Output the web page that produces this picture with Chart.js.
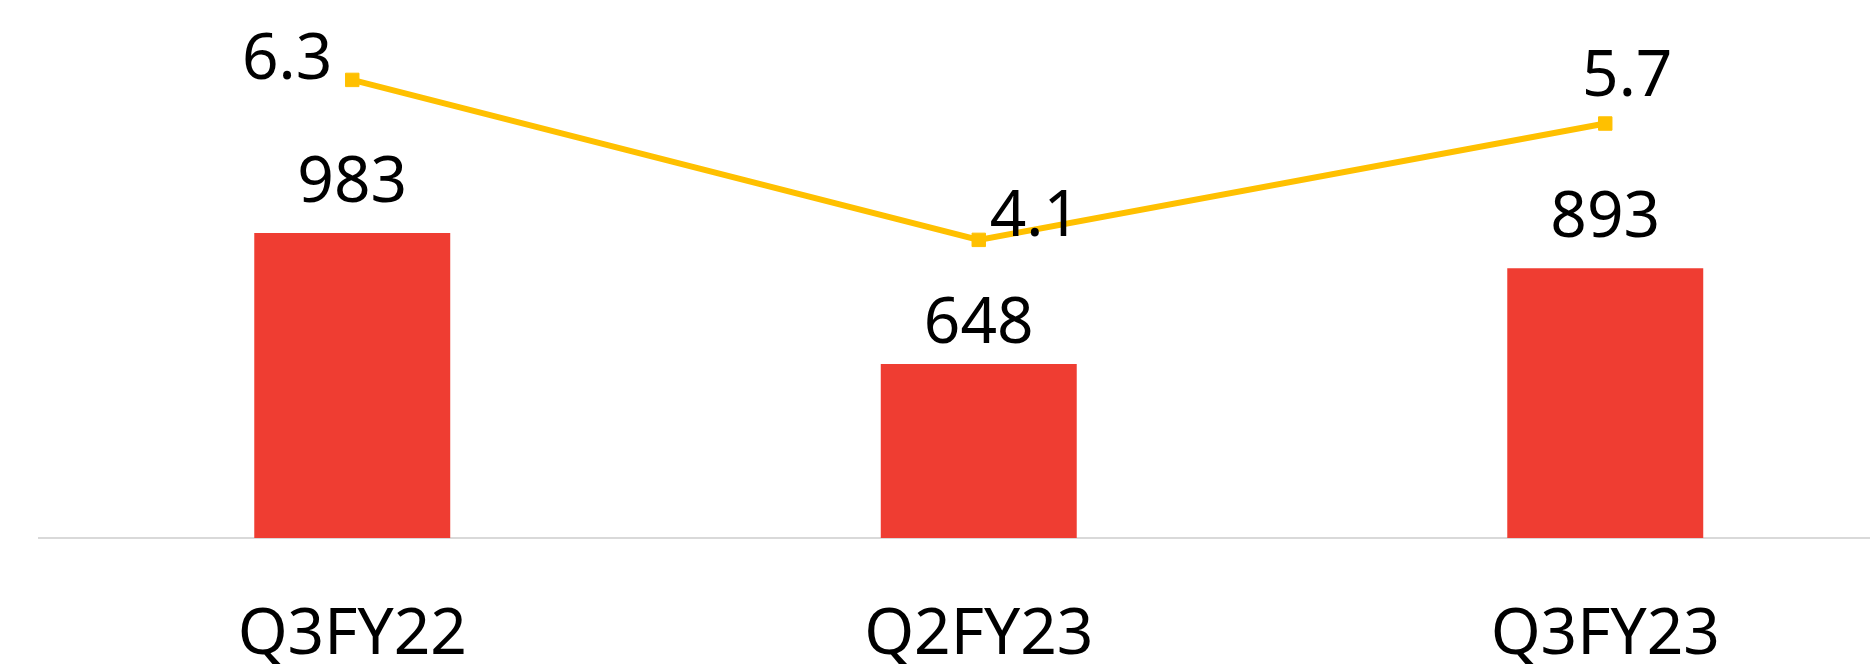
<!DOCTYPE html>
<html><head><meta charset="utf-8">
<script src="https://cdn.jsdelivr.net/npm/chart.js@4.4.0/dist/chart.umd.min.js"></script>
<style>
html,body{margin:0;padding:0;overflow:hidden;background:#fff;width:1870px;height:664px;}
#wrap{position:absolute;left:0;top:0;width:1929px;height:734px;}
</style></head><body>
<div id="wrap"><canvas id="c" width="1929" height="734"></canvas></div>
<script>
const categories = ['Q3FY22', 'Q2FY23', 'Q3FY23'];
const barValues = [983, 648, 893];
const lineValues = [6.3, 4.1, 5.7];

const FONT = '"Noto Sans", "Open Sans", sans-serif';

const labelPlugin = {
  id: 'valueLabels',
  afterDatasetsDraw(chart, args, opts) {
    const ctx = chart.ctx;
    ctx.save();
    ctx.font = '400 64px ' + FONT;
    ctx.fillStyle = '#000000';
    ctx.textBaseline = 'alphabetic';
    const barMeta = chart.getDatasetMeta(0);
    barMeta.data.forEach((el, i) => {
      ctx.textAlign = 'center';
      ctx.fillText(String(chart.data.datasets[0].data[i]), el.x, el.y - opts.barGap[i]);
    });
    const lineMeta = chart.getDatasetMeta(1);
    lineMeta.data.forEach((el, i) => {
      const p = opts.linePlace[i];
      ctx.textAlign = p.align;
      ctx.fillText(chart.data.datasets[1].data[i].toFixed(1), el.x + p.dx, el.y + p.dy);
    });
    ctx.restore();
  }
};

new Chart(document.getElementById('c'), {
  type: 'bar',
  data: {
    labels: categories,
    datasets: [
      {
        type: 'bar',
        data: barValues,
        backgroundColor: '#EF3D32',
        borderWidth: 0,
        barPercentage: 0.3128,
        categoryPercentage: 1.0,
        yAxisID: 'y',
        order: 2
      },
      {
        type: 'line',
        data: lineValues,
        borderColor: '#FFC000',
        borderWidth: 6,
        tension: 0,
        pointStyle: 'rect',
        pointRadius: 9.5,
        pointBackgroundColor: '#FFC000',
        pointBorderColor: '#FFC000',
        pointBorderWidth: 1,
        yAxisID: 'y1',
        order: 1
      }
    ]
  },
  options: {
    responsive: false,
    devicePixelRatio: 1,
    animation: false,
    layout: { padding: { left: 39, right: 0, top: 29, bottom: 0 } },
    plugins: {
      legend: { display: false },
      tooltip: { enabled: false },
      valueLabels: {
        barGap: [31, 21, 31],
        linePlace: [
          { align: 'right', dx: -20, dy: -1 },
          { align: 'left', dx: 11, dy: -4 },
          { align: 'center', dx: 22, dy: -28 }
        ]
      }
    },
    scales: {
      x: {
        offset: true,
        grid: { display: false, drawTicks: false },
        border: { display: true, color: '#D9D9D9', width: 2 },
        ticks: {
          color: '#000000',
          font: { family: FONT, size: 64, weight: '400' },
          padding: 59.6,
          maxRotation: 0,
          autoSkip: false
        }
      },
      y: { display: false, min: 203, max: 1505 },
      y1: { display: false, position: 'right', min: 0, max: 7 }
    }
  },
  plugins: [labelPlugin]
});
</script>
</body></html>
